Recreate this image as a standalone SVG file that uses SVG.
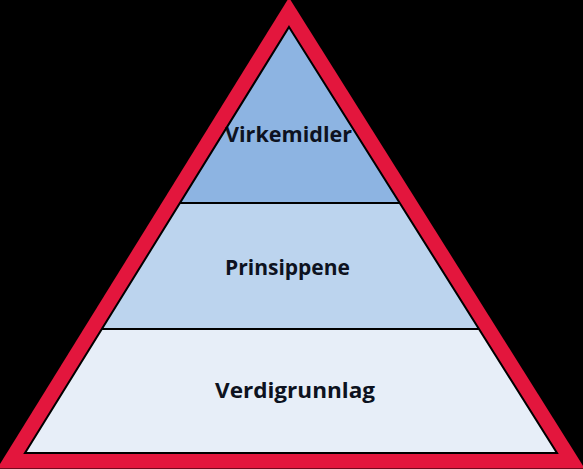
<svg xmlns="http://www.w3.org/2000/svg" width="583" height="469" viewBox="0 0 583 469">
<style>
.lbl{font-family:"Open Sans","Liberation Sans",sans-serif;font-weight:bold;font-size:22px;fill:#0d1220;text-anchor:middle}
.edge{stroke:#000;stroke-width:2;fill:none}
</style>
<rect width="583" height="469" fill="#000"/>
<polygon id="frame" points="289,-2.4 -2.8,468.5 584.8,468.5" fill="#e3163d"/>
<g id="bottom">
<polygon points="101.9,329 479,329 557,453 25,453" fill="#e7eef8"/>
<text class="lbl" x="295" y="398" textLength="160" lengthAdjust="spacingAndGlyphs">Verdigrunnlag</text>
</g>
<g id="middle">
<polygon points="179.9,203 399.7,203 479,329 101.9,329" fill="#bcd4ee"/>
<text class="lbl" x="287.5" y="275" textLength="125" lengthAdjust="spacingAndGlyphs">Prinsippene</text>
</g>
<g id="top">
<polygon points="289,27 399.7,203 179.9,203" fill="#8db4e2"/>
<text class="lbl" x="288.5" y="142" textLength="127" lengthAdjust="spacingAndGlyphs">Virkemidler</text>
</g>
<g id="lines">
<line class="edge" x1="179.9" y1="203" x2="399.7" y2="203"/>
<line class="edge" x1="101.9" y1="329" x2="479" y2="329"/>
<polygon class="edge" points="289,27 557,453 25,453"/>
</g>
</svg>
